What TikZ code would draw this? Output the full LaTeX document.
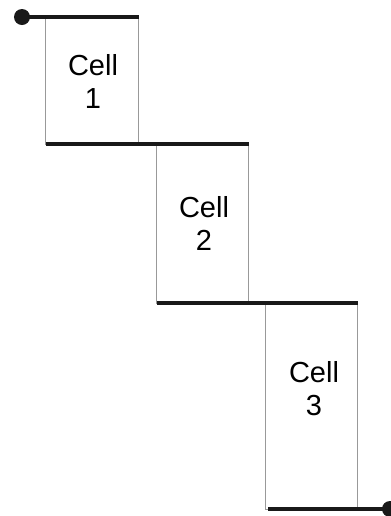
\documentclass[tikz,border=0pt]{standalone}
\usepackage{fontspec}
\setmainfont{Liberation Sans}
\begin{document}
\begin{tikzpicture}[x=0.5pt,y=-0.5pt,
    cellbox/.style={draw=black!40, line width=0.5pt},
    rail/.style={draw=black!90, line width=2pt},
    celltext/.style={align=center, inner sep=0pt, font=\fontsize{14.5}{16.5}\selectfont}]

    % Fix the page to the size of the reference
    \useasboundingbox (0,0) rectangle (391,516);

    % Corners of the three cells (top-left and bottom-right)
    \coordinate (TL1) at (46,17);
    \coordinate (BR1) at (139,144);
    \coordinate (TL2) at (157,144);
    \coordinate (BR2) at (249,303);
    \coordinate (TL3) at (266,303);
    \coordinate (BR3) at (358,509);

    % Free ends of the wire, with the terminal dots
    \coordinate (Start) at (22,17);
    \coordinate (End) at (390,509);

    % Draw the thin outlines of the cells
    \draw[cellbox] (TL1) rectangle (BR1);
    \draw[cellbox] (TL2) rectangle (BR2);
    \draw[cellbox] (TL3) rectangle (BR3);

    % Draw the thick wire segments joining the cells
    \draw[rail] (Start) -- (TL1 -| BR1);
    \draw[rail] (BR1 -| TL1) -- (TL2 -| BR2);
    \draw[rail] (BR2 -| TL2) -- (TL3 -| BR3);
    \draw[rail] (268,509) -- (End);

    % Terminal dots at both ends
    \fill[black!90] (Start) circle (4pt);
    \fill[black!90] (End) circle (4pt);

    % Labels inside the cells
    \node[celltext] (cell1) at (93,81) {Cell\\1};
    \node[celltext] (cell2) at (204,223) {Cell\\2};
    \node[celltext] (cell3) at (314,389) {Cell\\3};

\end{tikzpicture}
\end{document}
